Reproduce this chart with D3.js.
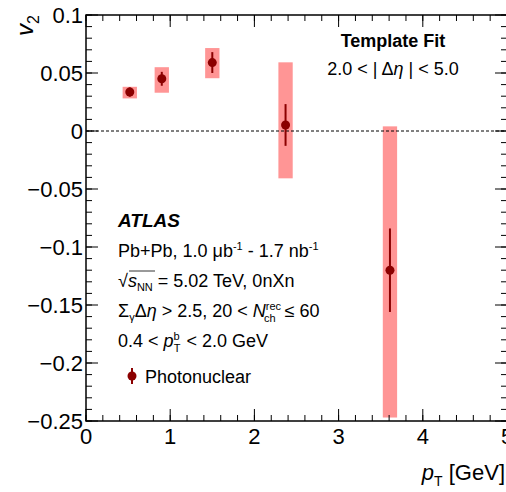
<!DOCTYPE html>
<html>
<head>
<meta charset="utf-8">
<script src="https://cdn.jsdelivr.net/npm/d3@7"></script>
<style>
  body { margin: 0; background: #fff; }
  svg { font-family: "Liberation Sans", Arial, Helvetica, sans-serif; }
</style>
</head>
<body>
<div id="chart"></div>
<script>
// data
var pt      = [0.52, 0.90, 1.50, 2.37, 3.61];
var v2      = [0.0336, 0.0450, 0.0590, 0.0052, -0.1200];
var statErr = [0.004, 0.006, 0.009, 0.018, 0.036];
var sysUp   = [0.0045, 0.010, 0.0125, 0.054, 0.124];
var sysDown = [0.0055, 0.012, 0.0135, 0.046, 0.127];
var sysHalfWidth = 0.085;

var xTicks = [0, 1, 2, 3, 4, 5];
var yTicks = [0.1, 0.05, 0, -0.05, -0.1, -0.15, -0.2, -0.25];

var W = 506, H = 492;
var pL = 86, pR = 507, pT = 15, pB = 421;

var x = d3.scaleLinear().domain([0, 5]).range([pL, pR]);
var y = d3.scaleLinear().domain([-0.25, 0.1]).range([pB, pT]);

var svg = d3.select("#chart").append("svg")
    .attr("width", W)
    .attr("height", H);

var points = pt.map(function(p, i) {
  return { x: p, y: v2[i], stat: statErr[i], up: sysUp[i], down: sysDown[i] };
});

// systematic boxes
svg.selectAll(".sys")
    .data(points)
  .enter().append("rect")
    .attr("class", "sys")
    .attr("x", function(d) { return x(d.x - sysHalfWidth); })
    .attr("width", function(d) { return x(d.x + sysHalfWidth) - x(d.x - sysHalfWidth); })
    .attr("y", function(d) { return y(d.y + d.up); })
    .attr("height", function(d) { return y(d.y - d.down) - y(d.y + d.up); })
    .style("fill", "#ff9595");

// zero line
svg.append("line")
    .attr("x1", x(0)).attr("x2", x(5))
    .attr("y1", y(0)).attr("y2", y(0))
    .style("stroke", "#000")
    .style("stroke-width", 1)
    .style("stroke-dasharray", "3,2");

// stat error bars
svg.selectAll(".stat")
    .data(points)
  .enter().append("line")
    .attr("class", "stat")
    .attr("x1", function(d) { return x(d.x); })
    .attr("x2", function(d) { return x(d.x); })
    .attr("y1", function(d) { return y(d.y + d.stat); })
    .attr("y2", function(d) { return y(d.y - d.stat); })
    .style("stroke", "#8b0000")
    .style("stroke-width", 2);

svg.selectAll(".dot")
    .data(points)
  .enter().append("circle")
    .attr("class", "dot")
    .attr("cx", function(d) { return x(d.x); })
    .attr("cy", function(d) { return y(d.y); })
    .attr("r", 4.5)
    .style("fill", "#8b0000");

// axes: ticks pointing inward, ROOT style
function minorTicks(lo, hi, step) {
  var t = [];
  for (var v = lo; v <= hi + 1e-9; v += step) t.push(+v.toFixed(4));
  return t;
}
var xMinor = minorTicks(0, 5, 0.2);
var yMinor = minorTicks(-0.25, 0.1, 0.01);

function tickLines(g, vals, len, orient) {
  var horiz = orient === "b" || orient === "t";
  g.append("g").selectAll("line")
      .data(vals)
    .enter().append("line")
      .attr("x1", function(d) { return horiz ? x(d) : (orient === "l" ? pL : pR); })
      .attr("x2", function(d) { return horiz ? x(d) : (orient === "l" ? pL + len : pR - len); })
      .attr("y1", function(d) { return horiz ? (orient === "b" ? pB : pT) : y(d); })
      .attr("y2", function(d) { return horiz ? (orient === "b" ? pB - len : pT + len) : y(d); })
      .style("stroke", "#000")
      .style("stroke-width", 1);
}
var ticks = svg.append("g").attr("class", "ticks");
["b", "t"].forEach(function(o) {
  tickLines(ticks, xMinor, 6, o);
  tickLines(ticks, xTicks, 12, o);
});
["l", "r"].forEach(function(o) {
  tickLines(ticks, yMinor, 6, o);
  tickLines(ticks, yTicks, 12, o);
});

// frame
svg.append("rect")
    .attr("x", pL).attr("y", pT)
    .attr("width", pR - pL).attr("height", pB - pT)
    .style("fill", "none")
    .style("stroke", "#000")
    .style("stroke-width", 1.5);

// tick labels
var fmtY = function(d) { return d === 0 ? "0" : (d < 0 ? "\u2212" : "") + String(Math.abs(d)); };
svg.selectAll(".ylab")
    .data(yTicks)
  .enter().append("text")
    .attr("class", "ylab")
    .attr("x", pL - 3)
    .attr("y", function(d) { return y(d); })
    .attr("dy", "0.36em")
    .style("text-anchor", "end")
    .style("font-size", "22px")
    .text(fmtY);

svg.selectAll(".xlab")
    .data(xTicks)
  .enter().append("text")
    .attr("class", "xlab")
    .attr("x", function(d) { return x(d); })
    .attr("y", pB + 23)
    .style("text-anchor", "middle")
    .style("font-size", "22px")
    .text(function(d) { return d; });

// axis titles
var xt = svg.append("text")
    .attr("x", 505)
    .attr("y", 480)
    .style("text-anchor", "end")
    .style("font-size", "22px");
xt.append("tspan").style("font-style", "italic").text("p");
xt.append("tspan").attr("dy", 6).style("font-size", "14px").text("T");
xt.append("tspan").attr("dy", -6).text(" [GeV]");

var yt = svg.append("text")
    .attr("transform", "translate(33,15) rotate(-90)")
    .style("text-anchor", "end")
    .style("font-size", "24px");
yt.append("tspan").style("font-style", "italic").text("v");
yt.append("tspan").attr("dy", 6).style("font-size", "16px").text("2");

// top-right label
svg.append("text")
    .attr("x", 393).attr("y", 47)
    .style("text-anchor", "middle")
    .style("font-size", "18px")
    .style("font-weight", "bold")
    .text("Template Fit");
var eta = svg.append("text")
    .attr("x", 393).attr("y", 75)
    .style("text-anchor", "middle")
    .style("font-size", "18px");
eta.append("tspan").text("2.0 < | \u0394");
eta.append("tspan").style("font-style", "italic").text("\u03B7");
eta.append("tspan").text(" | < 5.0");

// ATLAS block
var tx = 118;
svg.append("text")
    .attr("x", tx).attr("y", 227)
    .style("font-size", "19px")
    .style("font-weight", "bold")
    .style("font-style", "italic")
    .text("ATLAS");

var l1 = svg.append("text").attr("x", tx).attr("y", 257).style("font-size", "18px");
l1.append("tspan").text("Pb+Pb, 1.0 \u03BCb");
l1.append("tspan").attr("dy", -7).style("font-size", "11px").text("-1");
l1.append("tspan").attr("dy", 7).text(" - 1.7 nb");
l1.append("tspan").attr("dy", -7).style("font-size", "11px").text("-1");

var l2 = svg.append("text").attr("x", tx).attr("y", 287).style("font-size", "18px");
l2.append("tspan").text("\u221A");
l2.append("tspan").style("font-style", "italic").text("s");
l2.append("tspan").attr("dy", 4).style("font-size", "11px").text("NN");
l2.append("tspan").attr("dy", -4).text(" = 5.02 TeV, 0nXn");
svg.append("line")
    .attr("x1", tx + 11).attr("x2", tx + 37)
    .attr("y1", 271).attr("y2", 271)
    .style("stroke", "#000").style("stroke-width", 0.8);

var l3 = svg.append("text").attr("x", tx).attr("y", 317).style("font-size", "18px");
l3.append("tspan").text("\u03A3");
l3.append("tspan").attr("dy", 4).style("font-size", "11px").text("\u03B3");
l3.append("tspan").attr("dy", -4).text("\u0394");
l3.append("tspan").style("font-style", "italic").text("\u03B7");
l3.append("tspan").text(" > 2.5,  20 < ");
l3.append("tspan").style("font-style", "italic").text("N");
l3.append("tspan").attr("dy", -7).style("font-size", "11px").text("rec");
l3.append("tspan").attr("dx", -17).attr("dy", 12).style("font-size", "11px").text("ch");
l3.append("tspan").attr("dx", 4).attr("dy", -5).text(" \u2264 60");

var l4 = svg.append("text").attr("x", tx).attr("y", 347).style("font-size", "18px");
l4.append("tspan").text("0.4 < ");
l4.append("tspan").style("font-style", "italic").text("p");
l4.append("tspan").attr("dy", -7).style("font-size", "11px").text("b");
l4.append("tspan").attr("dx", -6).attr("dy", 12).style("font-size", "11px").text("T");
l4.append("tspan").attr("dx", 1).attr("dy", -5).text(" < 2.0 GeV");

// legend
var legend = svg.append("g").attr("transform", "translate(132,376)");
legend.append("line")
    .attr("y1", -8).attr("y2", 8)
    .style("stroke", "#8b0000").style("stroke-width", 2);
legend.append("circle").attr("r", 4.5).style("fill", "#8b0000");
legend.append("text")
    .attr("x", 13).attr("y", 6.5)
    .style("font-size", "18px")
    .text("Photonuclear");
</script>
</body>
</html>
